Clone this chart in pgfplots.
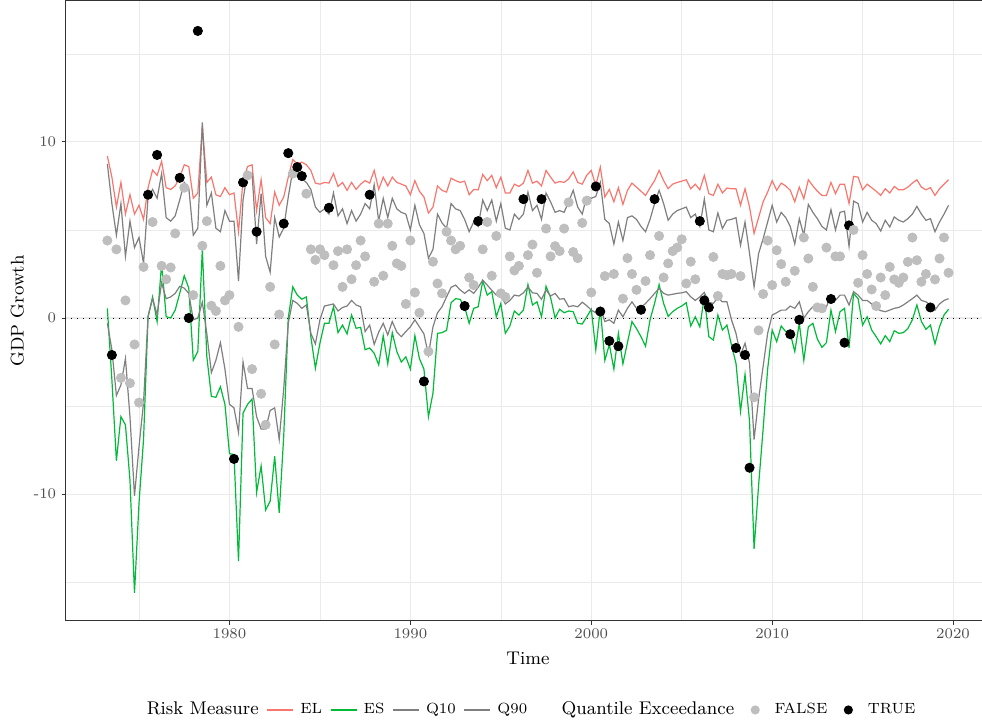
\documentclass[border=0pt]{standalone}
\usepackage{pgfplots}
\usepackage{pgfplotstable}
\pgfplotsset{compat=1.18}
\definecolor{elred}{HTML}{F8766D}
\definecolor{esgreen}{HTML}{00BA38}
\definecolor{qgray}{HTML}{7F7F7F}
\definecolor{ptgray}{HTML}{BEBEBE}
\definecolor{gridc}{HTML}{EBEBEB}
\definecolor{tickc}{HTML}{4D4D4D}
\definecolor{framec}{HTML}{333333}

\pgfplotstableread{
t EL ES Q10 Q90 Y E
1973.25 9.2 0.55 -0.3 8.75 4.4 F
1973.5 8.0 -3.5 -1.8 6.5 -2.1 T
1973.75 6.3 -8.1 -4.4 4.7 3.9 F
1974.0 7.7 -5.6 -3.8 6.5 -3.4 F
1974.25 5.9 -6.06 -2.3 3.5 1.0 F
1974.5 7.0 -9.2 -5.6 5.5 -3.7 F
1974.75 5.9 -15.6 -10.1 4.0 -1.5 F
1975.0 6.4 -10.5 -7.3 4.57 -4.8 F
1975.25 5.6 -6.9 -4.8 3.1 2.9 F
1975.5 7.4 0.07 0.1 6.87 7.0 T
1975.75 8.4 1.2 1.1 7.3 5.45 F
1976.0 8.1 -0.2 0.2 6.8 9.26 T
1976.25 8.9 3.1 2.0 8.2 2.96 F
1976.5 7.4 0.08 1.1 5.7 2.2 F
1976.75 7.3 0.0 1.2 5.5 2.87 F
1977.0 7.5 0.45 1.4 5.8 4.8 F
1977.25 8.0 1.4 1.8 6.7 7.96 T
1977.5 8.7 2.4 1.7 7.7 7.4 F
1977.75 8.6 1.7 1.4 7.4 0.0 T
1978.0 6.8 -2.4 -0.1 4.7 1.3 F
1978.25 7.1 -1.9 0.0 5.1 16.3 T
1978.5 10.9 3.9 0.9 11.1 4.1 F
1978.75 7.7 -2.2 -0.9 6.4 5.5 F
1979.0 8.0 -4.45 -3.1 7.1 0.7 F
1979.25 7.0 -4.5 -2.4 5.1 0.4 F
1979.5 6.9 -3.9 -1.4 4.9 2.96 F
1979.75 7.4 -4.9 -2.9 6.1 1.0 F
1980.0 7.0 -7.7 -4.9 5.5 1.3 F
1980.25 7.1 -7.75 -5.1 5.5 -8.0 T
1980.5 4.9 -13.8 -6.5 2.1 -0.5 F
1980.75 7.8 -5.4 -2.5 6.7 7.7 T
1981.0 8.6 -4.9 -4.0 8.3 8.1 F
1981.25 8.7 -4.6 -4.0 8.2 -2.9 F
1981.5 6.1 -9.9 -5.6 4.2 4.9 T
1981.75 7.85 -8.4 -6.3 7.06 -4.3 F
1982.0 5.7 -10.9 -6.3 3.5 -6.06 F
1982.25 5.36 -10.4 -5.25 2.6 1.77 F
1982.5 7.15 -7.85 -5.1 5.7 -1.5 F
1982.75 6.4 -11.06 -6.9 4.6 0.2 F
1983.0 6.87 -6.7 -4.0 5.1 5.36 T
1983.25 8.0 0.0 -0.3 6.87 9.36 T
1983.5 9.0 1.77 1.0 8.4 8.2 F
1983.75 8.75 1.3 0.83 8.2 8.57 T
1984.0 8.85 1.07 0.55 7.9 8.06 T
1984.25 8.7 1.2 0.74 7.7 7.06 F
1984.5 8.38 -1.06 -0.87 7.3 3.9 F
1984.75 7.66 -2.85 -1.47 6.3 3.3 F
1985.0 7.6 -1.43 -0.1 6.0 3.9 F
1985.25 7.7 -0.3 0.68 6.2 3.57 F
1985.5 7.66 -0.3 0.74 5.9 6.26 T
1985.75 8.2 0.64 0.8 7.1 3.0 F
1986.0 7.47 -0.83 0.4 5.8 3.8 F
1986.25 7.7 -0.4 0.6 6.2 1.77 F
1986.5 7.25 -0.9 0.68 5.36 3.9 F
1986.75 7.7 0.17 1.0 6.1 2.2 F
1987.0 7.3 -0.58 0.74 5.5 3.0 F
1987.25 7.6 -0.53 0.64 5.9 4.4 F
1987.5 7.8 -1.8 -0.77 6.5 3.5 F
1987.75 7.66 -1.7 -0.4 6.2 7.0 T
1988.0 8.38 -2.0 -1.5 7.57 2.06 F
1988.25 7.3 -2.66 -0.8 5.5 5.36 F
1988.5 8.0 -1.0 -0.3 6.8 2.4 F
1988.75 7.5 -2.6 -0.96 5.7 5.36 F
1989.0 8.0 -0.83 -0.2 6.8 4.1 F
1989.25 7.7 -1.9 -0.8 6.2 3.1 F
1989.5 7.6 -2.5 -1.06 6.0 2.96 F
1989.75 7.5 -2.2 -0.77 5.9 0.8 F
1990.0 7.0 -2.9 -0.5 5.0 4.4 F
1990.25 7.8 -1.0 -0.1 6.4 1.45 F
1990.5 7.2 -2.3 -0.5 5.3 0.3 F
1990.75 6.87 -2.9 -0.9 4.8 -3.6 T
1991.0 5.96 -5.6 -2.1 3.4 -1.9 F
1991.25 6.3 -4.26 -0.5 3.9 3.2 F
1991.5 7.5 -0.87 0.3 5.9 1.96 F
1991.75 7.25 -0.83 0.64 5.4 1.4 F
1992.0 7.15 -0.7 1.2 5.1 4.9 F
1992.25 7.94 0.87 1.74 6.5 4.4 F
1992.5 7.8 1.1 1.87 6.2 3.9 F
1992.75 7.7 1.06 1.6 6.1 4.1 F
1993.0 7.77 0.64 1.4 5.6 0.68 T
1993.25 7.0 -0.3 1.6 4.9 2.3 F
1993.5 7.3 0.55 1.4 5.45 1.87 F
1993.75 7.28 0.64 1.74 5.2 5.5 T
1994.0 8.15 2.1 2.15 6.7 3.9 F
1994.25 7.8 1.3 1.87 6.1 5.45 F
1994.5 8.1 1.5 1.58 6.7 2.4 F
1994.75 7.4 0.07 1.3 5.5 4.66 F
1995.0 8.0 0.83 1.3 6.5 1.4 F
1995.25 7.1 -0.87 0.8 5.1 1.2 F
1995.5 7.1 -0.45 1.0 5.0 3.5 F
1995.75 7.6 0.4 1.3 5.9 2.7 F
1996.0 7.47 0.17 1.25 5.6 2.96 F
1996.25 7.66 0.45 1.43 5.9 6.75 T
1996.5 8.38 1.9 1.77 7.15 3.57 F
1996.75 7.66 0.74 1.43 6.1 4.17 F
1997.0 7.77 0.92 1.4 6.4 2.57 F
1997.25 7.5 0.07 1.06 5.6 6.75 T
1997.5 8.38 1.8 1.6 7.1 5.08 F
1997.75 8.0 1.17 1.25 6.6 3.5 F
1998.0 7.66 0.0 1.4 6.0 4.08 F
1998.25 7.75 0.5 1.07 6.1 3.8 F
1998.5 7.7 0.3 1.1 6.0 5.08 F
1998.75 7.9 0.4 0.64 6.6 6.57 F
1999.0 8.3 0.36 0.7 7.25 3.75 F
1999.25 7.7 -0.3 0.64 6.3 3.4 F
1999.5 7.6 -0.34 0.9 5.9 5.4 F
1999.75 8.1 0.07 0.7 6.9 6.66 F
2000.0 8.38 0.5 0.45 6.8 1.45 F
2000.25 7.5 -1.8 0.3 6.9 7.47 T
2000.5 8.57 0.55 0.6 7.7 0.37 T
2000.75 6.87 -2.4 -0.2 5.6 2.38 F
2001.0 7.3 -1.5 -0.1 5.36 -1.3 T
2001.25 6.6 -2.9 -0.3 4.2 2.5 F
2001.5 7.4 -0.87 0.45 5.45 -1.6 T
2001.75 6.45 -2.6 0.07 4.4 1.1 F
2002.0 7.25 -1.4 0.55 5.7 3.4 F
2002.25 7.66 -0.2 0.92 5.8 2.5 F
2002.5 7.43 -0.6 0.55 5.6 1.6 F
2002.75 7.2 -1.06 0.6 5.2 0.47 T
2003.0 6.96 -1.6 0.83 4.9 2.1 F
2003.25 7.4 -0.1 1.1 5.6 3.57 F
2003.5 7.8 0.83 1.4 6.5 6.75 T
2003.75 8.38 1.9 1.68 7.25 4.66 F
2004.0 7.8 0.83 1.4 6.5 2.3 F
2004.25 7.34 0.1 1.3 5.55 3.1 F
2004.5 7.6 0.36 1.35 5.9 3.8 F
2004.75 7.7 0.55 1.4 6.1 4.0 F
2005.0 7.77 0.68 1.43 6.2 4.47 F
2005.25 7.85 0.87 1.5 6.3 1.96 F
2005.5 7.34 -0.45 1.2 5.7 3.2 F
2005.75 7.6 0.07 1.0 5.9 2.2 F
2006.0 7.28 -0.5 1.2 5.2 5.5 T
2006.25 8.1 1.2 1.45 6.75 1.0 T
2006.5 7.06 -1.06 0.9 5.0 0.6 T
2006.75 6.96 -1.25 0.83 4.9 3.47 F
2007.0 7.6 0.17 1.17 5.96 1.25 F
2007.25 7.1 -0.68 0.92 5.08 2.5 F
2007.5 7.38 -0.4 0.92 5.55 2.43 F
2007.75 7.34 -1.53 -0.1 5.6 2.5 F
2008.0 7.34 -2.57 -0.87 5.7 -1.7 T
2008.25 6.4 -5.3 -2.1 4.13 2.38 F
2008.5 7.34 -3.2 -1.43 5.45 -2.1 T
2008.75 6.3 -5.87 -2.57 3.66 -8.5 T
2009.0 4.8 -13.1 -6.9 1.77 -4.5 F
2009.25 5.7 -9.5 -4.6 3.66 -0.7 F
2009.5 6.6 -6.3 -2.75 4.5 1.36 F
2009.75 7.15 -2.9 -0.87 5.45 4.4 F
2010.0 7.8 -0.68 0.17 6.4 1.87 F
2010.25 7.25 -1.34 0.3 5.45 3.85 F
2010.5 7.66 -0.45 0.45 6.0 3.06 F
2010.75 7.5 -0.77 0.45 5.7 2.06 F
2011.0 7.25 -0.87 0.68 5.2 -0.92 T
2011.25 6.6 -1.9 0.55 4.2 2.68 F
2011.5 7.43 -0.3 0.92 5.64 -0.1 T
2011.75 6.77 -2.4 0.0 4.7 4.57 F
2012.0 7.85 -0.5 0.36 6.45 3.38 F
2012.25 7.5 -0.3 0.64 6.0 1.77 F
2012.5 7.2 -1.2 0.45 5.64 0.6 F
2012.75 6.96 -1.66 0.36 5.2 0.55 F
2013.0 6.96 -1.4 0.64 5.0 4.0 F
2013.25 7.7 0.45 1.3 6.15 1.08 T
2013.5 7.06 -0.77 1.0 5.0 3.5 F
2013.75 7.6 0.36 1.3 6.0 3.5 F
2014.0 7.6 0.55 1.3 6.07 -1.4 T
2014.25 6.5 -1.7 0.74 4.07 5.26 T
2014.5 8.04 1.4 1.5 6.64 5.0 F
2014.75 8.0 1.1 1.3 6.5 2.0 F
2015.0 7.28 -0.4 1.0 5.45 3.57 F
2015.25 7.6 0.07 1.0 6.0 2.5 F
2015.5 7.4 -0.68 0.8 5.55 1.62 F
2015.75 7.2 -1.06 0.55 5.36 0.68 F
2016.0 6.96 -1.47 0.42 4.94 2.3 F
2016.25 7.34 -1.0 0.36 5.55 1.3 F
2016.5 7.1 -1.34 0.45 5.17 2.9 F
2016.75 7.47 -0.72 0.55 5.74 2.19 F
2017.0 7.28 -0.87 0.6 5.55 2.0 F
2017.25 7.28 -0.83 0.74 5.45 2.3 F
2017.5 7.43 -0.6 0.92 5.64 3.19 F
2017.75 7.66 -0.1 1.1 5.9 4.57 F
2018.0 7.85 0.74 1.3 6.34 3.28 F
2018.25 7.43 -0.2 1.0 5.9 2.06 F
2018.5 7.28 -0.64 0.92 5.55 2.5 F
2018.75 7.4 -0.4 0.74 5.64 0.6 T
2019.0 6.96 -1.47 0.45 4.9 2.19 F
2019.25 7.34 -0.5 0.8 5.45 3.38 F
2019.5 7.6 0.17 1.0 5.9 4.57 F
2019.75 7.85 0.5 1.1 6.4 2.57 F
}\gdp

\begin{document}
\begin{tikzpicture}
\begin{axis}[
  at={(0,0)}, anchor=south west,
  scale only axis, width=462.65pt, height=310pt,
  xmin=1970.925, xmax=2022.075, ymin=-17.2, ymax=18.0,
  axis line style={framec, line width=0.5pt},
  xtick={1980,1990,2000,2010,2020},
  xticklabels={1980,1990,2000,2010,2020},
  minor xtick={1975,1985,1995,2005,2015},
  ytick={-10,0,10},
  yticklabels={-10,0,10},
  minor ytick={-15,-5,5,15},
  grid=both,
  major grid style={gridc, line width=0.55pt},
  minor grid style={gridc, line width=0.3pt},
  tick align=outside, tick pos=left,
  major tick length=1.9pt, minor tick length=0pt,
  tick style={framec, line width=0.5pt},
  xticklabel style={font=\fontsize{7.4}{8.9}\selectfont, text=tickc, inner sep=0pt, anchor=north, yshift=-1.8pt},
  yticklabel style={font=\fontsize{7.4}{8.9}\selectfont, text=tickc, inner sep=0pt, anchor=east, xshift=-2.5pt},
  every axis x label/.style={at={(axis description cs:0.5,0)}, anchor=center, yshift=-18.75pt, font=\fontsize{9.2}{11}\selectfont},
  every axis y label/.style={at={(axis description cs:0,0.5)}, anchor=center, xshift=-24pt, rotate=90, font=\fontsize{9.2}{11}\selectfont},
  xlabel={Time}, ylabel={GDP Growth},
  legend columns=-1,
  legend style={at={(0.5,-0.1435)}, anchor=center, draw=none, fill=none,
    font=\fontsize{7.4}{8.9}\selectfont,
    nodes={inner sep=0pt},
    /tikz/every odd column/.append style={column sep=3.2pt},
    /tikz/every even column/.append style={column sep=4pt}},
]
\addplot[black, line width=0.5pt, dash pattern=on 0.6pt off 2.4pt, forget plot] coordinates {(1970.925,0) (2022.075,0)};
\addplot[elred, line width=0.6pt, forget plot] table[x=t, y=EL] {\gdp};
\addplot[esgreen, line width=0.6pt, forget plot] table[x=t, y=ES] {\gdp};
\addplot[qgray, line width=0.6pt, forget plot] table[x=t, y=Q10] {\gdp};
\addplot[qgray, line width=0.6pt, forget plot] table[x=t, y=Q90] {\gdp};
\addplot[only marks, scatter, scatter src=explicit symbolic, mark=*, mark size=2.3pt,
  scatter/classes={F={mark=*, ptgray, mark options={fill=ptgray, draw=ptgray}},
                   T={mark=*, black, mark options={fill=black, draw=black}}},
  forget plot] table[x=t, y=Y, meta=E] {\gdp};

\addlegendimage{empty legend}
\addlegendentry{\fontsize{9.2}{11}\selectfont Risk Measure}
\addlegendimage{legend image code/.code={\draw[elred, line width=0.6pt] (0pt,0pt) -- (13pt,0pt);}}
\addlegendentry{EL}
\addlegendimage{legend image code/.code={\draw[esgreen, line width=0.6pt] (0pt,0pt) -- (13pt,0pt);}}
\addlegendentry{ES}
\addlegendimage{legend image code/.code={\draw[qgray, line width=0.6pt] (0pt,0pt) -- (13pt,0pt);}}
\addlegendentry{Q10}
\addlegendimage{legend image code/.code={\draw[qgray, line width=0.6pt] (0pt,0pt) -- (13pt,0pt);}}
\addlegendentry{Q90}
\addlegendimage{empty legend}
\addlegendentry{\hspace{10pt}\fontsize{9.2}{11}\selectfont Quantile Exceedance}
\addlegendimage{legend image code/.code={\path[draw=none, fill=none] (0pt,-1pt) rectangle (13pt,1pt); \fill[ptgray, draw=none] (6.5pt,0pt) circle (2.3pt);}}
\addlegendentry{FALSE}
\addlegendimage{legend image code/.code={\path[draw=none, fill=none] (0pt,-1pt) rectangle (13pt,1pt); \fill[black, draw=none] (6.5pt,0pt) circle (2.3pt);}}
\addlegendentry{TRUE}
\end{axis}
\pgfresetboundingbox
\path[use as bounding box] (-32.65pt,-50pt) rectangle (458.35pt,310.5pt);
\end{tikzpicture}
\end{document}
